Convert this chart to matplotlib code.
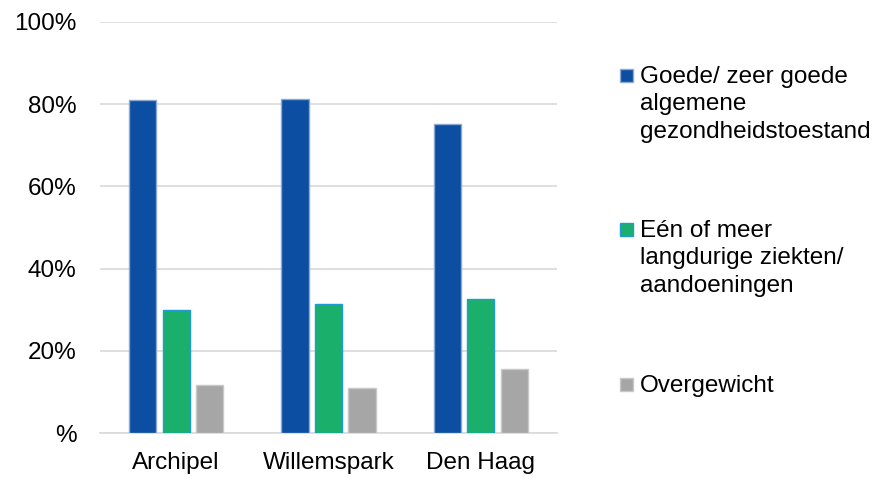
import numpy as np
import matplotlib
matplotlib.use('Agg')
import matplotlib.pyplot as plt
from matplotlib.patches import Rectangle

plt.rcParams['font.family'] = ['Liberation Sans', 'DejaVu Sans']

# --- data ---
categories = ['Archipel', 'Willemspark', 'Den Haag']
series_names = [
    'Goede/ zeer goede\nalgemene\ngezondheidstoestand',
    'Eén of meer\nlangdurige ziekten/\naandoeningen',
    'Overgewicht',
]
goed = [81.0, 81.3, 75.2]
langdurig = [29.9, 31.4, 32.6]
overgewicht = [11.7, 11.0, 15.6]
tick_labels = ['%', '20%', '40%', '60%', '80%', '100%']

colors = ['#0B4EA2', '#1AB06B', '#A6A6A6']
edges = ['#8FA8D0', '#1E9BD7', '#C8C8C8']
fs = 17.5

fig = plt.figure(figsize=(8.96, 4.79), dpi=100)
ax = fig.add_axes([100 / 896, 1 - 433 / 479, 457 / 896, 411 / 479])

x = np.arange(len(categories))
width = 0.178
offset = 0.22
for i, vals in enumerate([goed, langdurig, overgewicht]):
    ax.bar(x + (i - 1) * offset, vals, width, color=colors[i],
           edgecolor=edges[i], linewidth=1.0, zorder=3)

ax.set_xlim(-0.5, 2.5)
ax.set_ylim(0, 100)
ax.set_yticks(np.arange(0, 101, 20))
ax.set_yticklabels(tick_labels)
ax.set_xticks(x)
ax.set_xticklabels(categories)
ax.tick_params(axis='both', length=0, labelsize=fs, colors='black')
ax.tick_params(axis='x', pad=14)
ax.tick_params(axis='y', pad=17)
ax.yaxis.grid(True, color='#D9D9D9', linewidth=1.2, zorder=0)
for side in ['top', 'right', 'left']:
    ax.spines[side].set_visible(False)
ax.spines['bottom'].set_color('#D9D9D9')
ax.spines['bottom'].set_linewidth(1.2)

# legend on the right, drawn by hand
legend_y = [75, 229, 384]
for name, c, e, y in zip(series_names, colors, edges, legend_y):
    fig.patches.append(Rectangle((620 / 896, 1 - (y + 6.5) / 479), 13 / 896, 13 / 479,
                                 transform=fig.transFigure, facecolor=c,
                                 edgecolor=e, linewidth=1.0))
    fig.text(640 / 896, 1 - (y - 9) / 479, name, fontsize=fs, va='top',
             ha='left', linespacing=1.31)

fig.savefig('out.png', dpi=100)
